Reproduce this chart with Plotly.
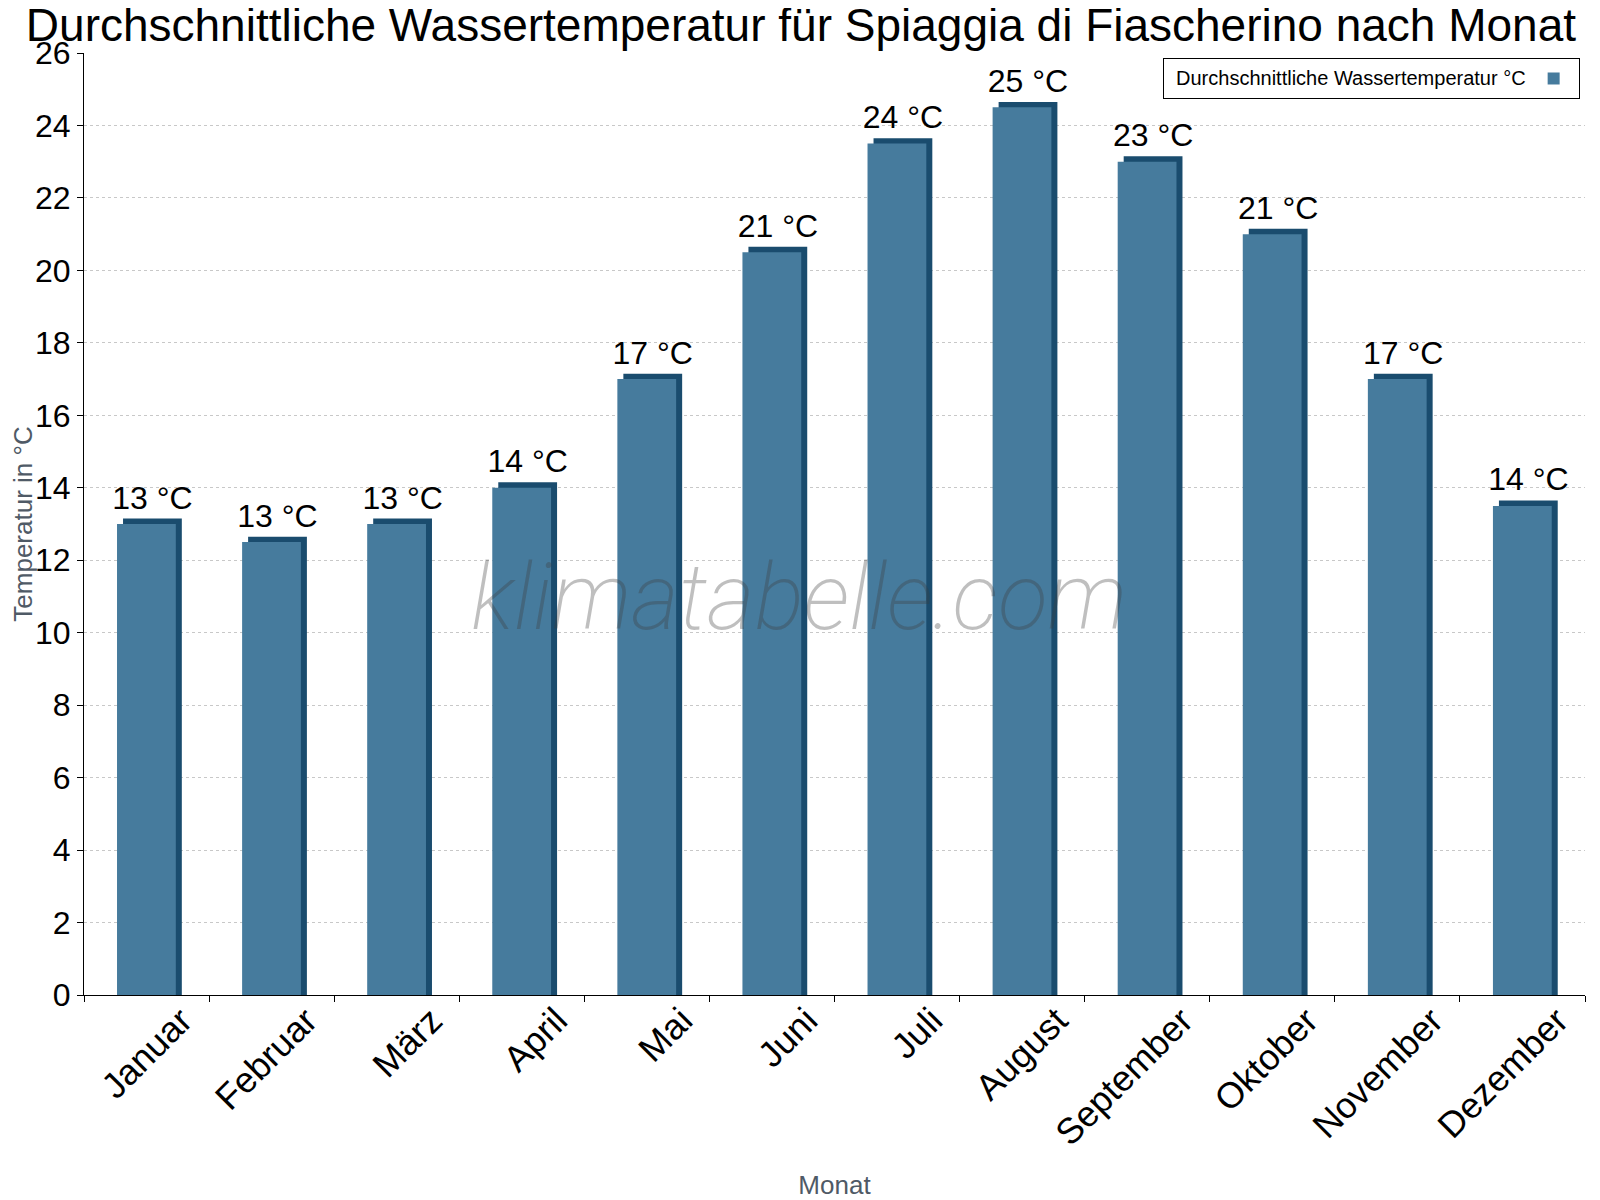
import plotly.graph_objects as go

months = ["Januar", "Februar", "März", "April", "Mai", "Juni", "Juli",
          "August", "September", "Oktober", "November", "Dezember"]
water_temp = [13.0, 12.5, 13.0, 14.0, 17.0, 20.5, 23.5, 24.5, 23.0, 21.0, 17.0, 13.5]
labels = ["13 °C", "13 °C", "13 °C", "14 °C", "17 °C", "21 °C", "24 °C",
          "25 °C", "23 °C", "21 °C", "17 °C", "14 °C"]
y_ticks = list(range(0, 27, 2))
series_name = "Durchschnittliche Wassertemperatur °C"

FRONT = "#467b9d"
SIDE = "#1a4c6e"
bevel = 0.15

fig = go.Figure()
# dark side / top bevel (shifted slightly right and up)
fig.add_trace(go.Bar(
    x=months, y=[v + bevel for v in water_temp],
    width=0.47, offset=-0.188,
    marker=dict(color=SIDE, line=dict(width=0)),
    text=labels, textposition="outside", constraintext="none",
    textfont=dict(size=32, color="black", family="Liberation Sans, Arial, sans-serif"),
    cliponaxis=False, showlegend=False, hoverinfo="skip",
))
# front face
fig.add_trace(go.Bar(
    x=months, y=water_temp,
    width=0.47, offset=-0.236,
    marker=dict(color=FRONT, line=dict(width=0)),
    name="", hovertemplate="%{x}: %{y} °C<extra></extra>",
    showlegend=True,
))

fig.update_layout(
    width=1600, height=1200,
    barmode="overlay",
    paper_bgcolor="white", plot_bgcolor="white",
    margin=dict(l=76, r=23, t=45, b=213, autoexpand=False),
    font=dict(family="Liberation Sans, Arial, sans-serif", color="black"),
    title=dict(text="Durchschnittliche Wassertemperatur für Spiaggia di Fiascherino nach Monat",
               font=dict(size=46, color="black"), x=0.4956, xref="container", xanchor="center",
               y=0.999, yref="container", yanchor="top", pad=dict(t=0, b=0)),
    uniformtext=dict(mode=False),
    legend=dict(x=0.9967, xanchor="right", y=0.9947, yanchor="top",
                bordercolor="black", borderwidth=1, bgcolor="white",
                font=dict(size=20, color="black"),
                title=dict(text="\u2002" + series_name, side="left",
                           font=dict(size=20, color="black")),
                traceorder="normal", itemwidth=30),
    xaxis=dict(
        type="category", automargin=False,
        tickangle=-45, tickfont=dict(size=36, color="black"),
        ticks="outside", tickson="boundaries", ticklen=6, tickcolor="black",
        ticklabelstandoff=-11,
        showline=True, linecolor="black", linewidth=1,
        showgrid=False, ticklabelshift=35,
        title=dict(text="Monat", font=dict(size=26, color="#4f5a66"), standoff=23),
        range=[-0.5, 11.5],
    ),
    yaxis=dict(
        range=[0, 26], tickvals=y_ticks, automargin=False,
        tickfont=dict(size=32, color="black"),
        ticks="outside", ticklen=6, tickcolor="black",
        showline=True, linecolor="black", linewidth=1,
        showgrid=True, gridcolor="#c8c8c8", griddash="dot", gridwidth=1,
        zeroline=False,
        title=dict(text="Temperatur in °C", font=dict(size=26, color="#4f5a66"), standoff=3),
    ),
    annotations=[dict(
        text="klimatabelle.com", xref="paper", yref="paper",
        x=0.4763, y=0.4225, xanchor="center", yanchor="middle", showarrow=False,
        font=dict(size=92, family="Roboto", color="rgba(60,60,60,0.33)", style="italic", weight=200),
    )],
)

fig.write_html("out.html")
